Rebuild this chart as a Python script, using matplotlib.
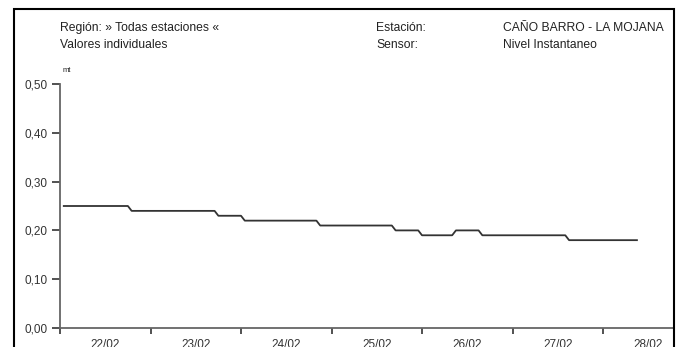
import matplotlib.pyplot as plt
from matplotlib.patches import Rectangle

plt.rcParams['font.family'] = ['Liberation Sans', 'DejaVu Sans']

# hours since 22/02 00:00 and level in metres
horas = [1, 18, 19, 41, 42, 48, 49, 68, 69, 88, 89, 95, 96, 104, 105, 111, 112, 134, 135, 153]
nivel = [0.25, 0.25, 0.24, 0.24, 0.23, 0.23, 0.22, 0.22, 0.21, 0.21, 0.20, 0.20, 0.19, 0.19,
         0.20, 0.20, 0.19, 0.19, 0.18, 0.18]
dias = ['22/02', '23/02', '24/02', '25/02', '26/02', '27/02', '28/02']
yticks = [0.0, 0.1, 0.2, 0.3, 0.4, 0.5]

fig = plt.figure(figsize=(6.79, 3.47), dpi=100)

### outer frame
fig.patches.append(Rectangle((14/679, -0.05), (674-14)/679, 1.05 - 9/347,
                             transform=fig.transFigure, fill=False, lw=1.5, ec='black'))

### header texts
hdr = dict(fontsize=8.7, color='#222', va='center', ha='left')
fig.text(60/679, 1 - 28/347, 'Región: » Todas estaciones «', **hdr)
fig.text(60/679, 1 - 45/347, 'Valores individuales', **hdr)
fig.text(376/679, 1 - 28/347, 'Estación:', **hdr)
fig.text(376/679, 1 - 45/347, 'Sensor:', **hdr)
fig.text(503/679, 1 - 28/347, 'CAÑO BARRO - LA MOJANA', **hdr)
fig.text(503/679, 1 - 45/347, 'Nivel Instantaneo', **hdr)
fig.text(63/679, 1 - 70/347, 'mt', fontsize=5.5, color='#222', va='center', ha='left')

### plot area
ax = fig.add_axes([60/679, 19/347, (673-60)/679, (328-84)/347])
ax.plot(horas, nivel, color='#333', lw=1.3)
ax.set_xlim(0, (673-60)/90.5*24)
ax.set_ylim(0, 0.5)

ax.spines['top'].set_visible(False)
ax.spines['right'].set_visible(False)
for s in ['left', 'bottom']:
    ax.spines[s].set_color('#666')
    ax.spines[s].set_linewidth(1.3)

ax.set_yticks(yticks)
ax.set_yticklabels([('%.2f' % v).replace('.', ',') for v in yticks], fontsize=8.5, color='#333')
ax.tick_params(axis='y', length=6, width=1.2, color='#333', pad=3)

ax.set_xticks([24*i for i in range(len(dias))])
ax.set_xticklabels([])
ax.set_xticks([24*i + 12 for i in range(len(dias))], minor=True)
ax.set_xticklabels(dias, minor=True, fontsize=8.5, color='#333')
ax.tick_params(axis='x', which='major', length=4, width=1.2, color='#333')
ax.tick_params(axis='x', which='minor', length=0, pad=8)

fig.savefig('out.png', dpi=100)
